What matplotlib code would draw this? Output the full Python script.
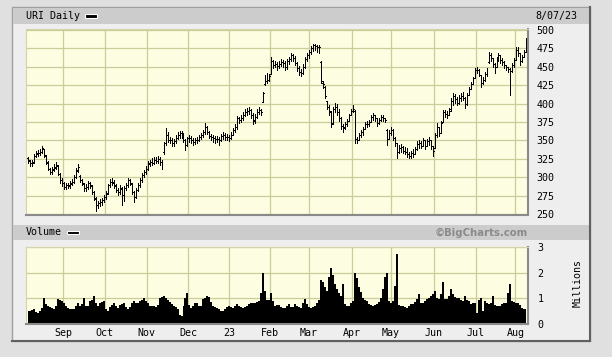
"""
URI daily price bars (OHLC) with volume, BigCharts style.
Period: Aug 2022 - 8/07/23
"""

import matplotlib
matplotlib.use("Agg")

import matplotlib.pyplot as plt
from matplotlib.patches import Rectangle
import numpy as np

# ── figure geometry (pixels of the 612x357 image) ──────────────────────────
W, H = 612, 357

# ── data ───────────────────────────────────────────────────────────────────
opens = [
    326, 322, 319, 321, 329, 332, 333, 335, 338, 329,
    320, 311, 307, 311, 313, 316, 304, 296, 292, 287,
    290, 288, 291, 294, 301, 309, 302, 297, 291, 285,
    287, 292, 288, 280, 271, 262, 265, 267, 269, 273,
    279, 289, 294, 293, 288, 283, 280, 284, 276, 285,
    289, 296, 291, 280, 273, 283, 289, 296, 303, 307,
    312, 318, 321, 320, 323, 322, 325, 321, 334, 346,
    358, 350, 351, 346, 349, 354, 357, 360, 358, 351,
    344, 352, 353, 350, 348, 350, 351, 355, 357, 361,
    367, 361, 356, 355, 353, 352, 352, 350, 356, 357,
    355, 355, 353, 358, 364, 368, 380, 378, 380, 384,
    389, 390, 391, 385, 377, 382, 388, 391, 402, 426,
    430, 432, 440, 457, 452, 454, 451, 453, 456, 455,
    450, 457, 460, 466, 462, 455, 448, 443, 442, 450,
    460, 466, 470, 475, 479, 478, 476, 456, 428, 423,
    404, 395, 389, 373, 392, 396, 388, 380, 370, 367,
    372, 377, 384, 390, 390, 352, 350, 357, 361, 365,
    372, 372, 375, 382, 384, 380, 374, 378, 382, 380,
    364, 352, 360, 364, 354, 346, 334, 340, 341, 336,
    334, 331, 329, 333, 331, 338, 345, 346, 343, 350,
    342, 349, 351, 342, 340, 358, 368, 360, 375, 388,
    386, 385, 392, 404, 410, 406, 401, 408, 410, 408,
    399, 411, 420, 426, 434, 445, 446, 439, 428, 432,
    440, 456, 466, 462, 454, 450, 460, 466, 459, 456,
    452, 449, 447, 444, 452, 459, 472, 468, 458, 463, 471,
]
highs = [
    328, 324, 323, 331, 336, 337, 338, 343, 339, 330,
    322, 313, 314, 318, 321, 317, 306, 299, 294, 293,
    293, 295, 298, 303, 313, 318, 303, 298, 293, 291,
    295, 294, 290, 282, 273, 268, 271, 272, 276, 281,
    291, 298, 299, 296, 291, 286, 289, 287, 288, 292,
    299, 298, 293, 282, 286, 292, 299, 306, 310, 315,
    322, 324, 326, 327, 328, 329, 327, 324, 348, 367,
    361, 355, 353, 352, 357, 361, 363, 363, 360, 352,
    355, 357, 356, 353, 353, 355, 358, 360, 364, 374,
    369, 363, 359, 358, 356, 356, 355, 359, 361, 360,
    359, 357, 362, 367, 372, 383, 382, 384, 388, 392,
    394, 395, 393, 387, 386, 392, 395, 393, 416, 439,
    441, 440, 463, 459, 458, 456, 457, 460, 459, 457,
    460, 463, 469, 467, 464, 456, 451, 447, 453, 463,
    469, 473, 478, 481, 481, 480, 479, 457, 430, 424,
    404, 398, 390, 395, 401, 400, 392, 382, 372, 375,
    379, 386, 392, 398, 391, 355, 360, 364, 368, 375,
    376, 378, 384, 387, 385, 381, 380, 385, 385, 381,
    366, 364, 368, 365, 355, 347, 344, 345, 342, 341,
    340, 334, 336, 338, 341, 349, 351, 349, 353, 350,
    352, 355, 351, 343, 360, 374, 368, 376, 391, 391,
    390, 394, 408, 414, 413, 409, 411, 414, 416, 409,
    414, 423, 429, 436, 448, 450, 447, 439, 436, 443,
    448, 470, 468, 462, 455, 463, 469, 466, 462, 457,
    452, 450, 448, 455, 462, 476, 477, 468, 466, 473, 489,
]
lows = [
    320, 316, 316, 319, 327, 329, 330, 333, 328, 318,
    310, 304, 305, 309, 312, 303, 293, 288, 284, 284,
    285, 286, 289, 292, 299, 307, 294, 289, 281, 282,
    284, 285, 277, 269, 255, 258, 261, 263, 266, 271,
    277, 287, 290, 286, 280, 276, 278, 262, 268, 283,
    287, 289, 277, 266, 272, 281, 287, 294, 300, 305,
    310, 315, 317, 318, 319, 320, 317, 312, 332, 344,
    348, 346, 342, 343, 347, 352, 354, 354, 348, 337,
    342, 348, 347, 344, 345, 346, 349, 352, 355, 359,
    359, 353, 351, 348, 347, 348, 344, 349, 352, 351,
    350, 349, 352, 357, 362, 366, 373, 375, 378, 383,
    385, 386, 381, 372, 374, 380, 386, 384, 402, 425,
    428, 431, 440, 448, 449, 446, 448, 451, 450, 446,
    447, 453, 457, 458, 452, 444, 439, 437, 440, 448,
    457, 462, 467, 471, 472, 470, 469, 428, 421, 407,
    392, 385, 368, 372, 388, 385, 376, 366, 362, 365,
    370, 377, 384, 388, 347, 346, 350, 355, 358, 365,
    368, 370, 375, 378, 376, 370, 372, 376, 377, 375,
    344, 352, 358, 350, 342, 326, 333, 334, 333, 331,
    328, 326, 326, 328, 331, 337, 340, 340, 344, 339,
    342, 344, 338, 329, 340, 355, 356, 360, 375, 382,
    381, 385, 390, 398, 401, 398, 400, 403, 405, 394,
    398, 412, 420, 426, 434, 441, 437, 423, 427, 431,
    438, 455, 457, 450, 442, 450, 457, 455, 452, 448,
    446, 443, 412, 443, 450, 459, 465, 452, 456, 463, 470,
]
closes = [
    323, 319, 319, 329, 333, 333, 334, 340, 330, 321,
    312, 307, 310, 314, 317, 305, 296, 292, 287, 289,
    289, 292, 294, 300, 310, 314, 296, 292, 285, 287,
    292, 289, 280, 272, 262, 265, 266, 269, 273, 278,
    289, 294, 294, 289, 283, 280, 285, 276, 285, 289,
    296, 292, 280, 273, 283, 289, 296, 303, 307, 312,
    319, 321, 321, 323, 323, 325, 321, 317, 346, 358,
    351, 351, 346, 349, 354, 357, 360, 359, 351, 344,
    353, 353, 351, 348, 350, 351, 355, 357, 361, 368,
    362, 356, 355, 353, 352, 352, 351, 356, 357, 355,
    355, 353, 358, 364, 368, 380, 378, 380, 384, 389,
    390, 391, 385, 378, 382, 388, 391, 389, 414, 430,
    432, 437, 457, 452, 454, 451, 453, 456, 455, 450,
    457, 460, 466, 462, 455, 448, 443, 442, 450, 460,
    466, 470, 475, 479, 478, 476, 476, 430, 426, 410,
    395, 390, 372, 392, 396, 388, 380, 370, 368, 372,
    377, 384, 390, 392, 352, 350, 357, 361, 365, 372,
    372, 375, 382, 384, 380, 374, 378, 382, 380, 378,
    352, 360, 364, 354, 346, 334, 340, 341, 336, 334,
    331, 329, 333, 331, 338, 345, 346, 343, 350, 342,
    349, 351, 342, 336, 358, 368, 360, 374, 388, 386,
    385, 390, 404, 410, 406, 401, 408, 410, 408, 399,
    411, 420, 426, 433, 445, 446, 440, 428, 432, 440,
    446, 466, 462, 454, 450, 460, 466, 459, 456, 452,
    449, 447, 444, 452, 459, 472, 468, 458, 463, 470, 487,
]
# volume in millions of shares
volume = [
    0.50, 0.52, 0.55, 0.57, 0.48, 0.43, 0.50, 0.62, 1.03, 0.78,
    0.70, 0.65, 0.62, 0.57, 0.70, 0.96, 0.95, 0.90, 0.83, 0.70,
    0.62, 0.57, 0.58, 0.57, 0.72, 0.83, 0.72, 0.78, 1.03, 0.72,
    0.70, 0.88, 0.95, 1.09, 0.80, 0.70, 0.80, 0.85, 0.90, 0.60,
    0.50, 0.65, 0.75, 0.83, 0.70, 0.63, 0.75, 0.78, 0.83, 0.65,
    0.57, 0.65, 0.80, 0.90, 0.80, 0.83, 0.88, 0.95, 1.03, 0.88,
    0.80, 0.72, 0.70, 0.70, 0.68, 0.75, 1.00, 1.06, 1.09, 1.02,
    0.94, 0.85, 0.78, 0.70, 0.65, 0.60, 0.35, 0.32, 0.70, 1.00,
    1.22, 0.75, 0.63, 0.70, 0.80, 0.83, 0.72, 0.70, 0.96, 1.02,
    1.09, 1.05, 0.85, 0.70, 0.65, 0.62, 0.57, 0.52, 0.50, 0.58,
    0.65, 0.70, 0.67, 0.63, 0.70, 0.76, 0.72, 0.66, 0.63, 0.68,
    0.72, 0.76, 0.80, 0.83, 0.83, 0.85, 0.90, 1.20, 1.97, 1.29,
    0.95, 0.95, 1.22, 0.90, 0.70, 0.75, 0.74, 0.65, 0.63, 0.63,
    0.72, 0.76, 0.65, 0.68, 0.76, 0.72, 0.68, 0.63, 0.80, 0.96,
    0.78, 0.68, 0.63, 0.66, 0.70, 0.82, 0.92, 1.70, 1.65, 1.45,
    1.30, 1.82, 2.18, 1.90, 1.55, 1.35, 1.20, 1.10, 1.55, 0.76,
    0.72, 0.70, 0.80, 0.90, 2.00, 1.80, 1.45, 1.25, 1.03, 0.95,
    0.88, 0.78, 0.74, 0.70, 0.74, 0.76, 0.85, 1.00, 1.35, 1.82,
    2.00, 0.90, 0.83, 0.90, 1.50, 2.74, 0.75, 0.70, 0.70, 0.66,
    0.63, 0.72, 0.76, 0.76, 0.85, 0.96, 1.18, 0.80, 0.82, 0.90,
    0.98, 1.03, 1.09, 1.15, 1.29, 1.00, 0.96, 1.16, 1.62, 0.96,
    0.96, 1.10, 1.36, 1.16, 1.05, 1.03, 1.03, 0.95, 0.90, 1.09,
    0.92, 0.88, 0.78, 0.80, 0.83, 0.43, 0.95, 1.03, 0.50, 0.90,
    0.80, 0.76, 0.83, 1.09, 0.75, 0.70, 0.70, 0.72, 0.76, 0.80,
    0.83, 1.22, 1.55, 0.90, 0.85, 0.83, 0.80, 0.74, 0.63, 0.60, 0.57,
]

# month boundaries (trading-day position) and labels
month_pos = [17.5, 38.5, 59.5, 80.5, 101, 121.5, 141, 162.5, 182, 203.5, 224.5, 244.5]
month_labels = ["Sep", "Oct", "Nov", "Dec", "23", "Feb", "Mar", "Apr", "May", "Jun", "Jul", "Aug"]
price_ticks = [250, 275, 300, 325, 350, 375, 400, 425, 450, 475, 500]
vol_ticks = [0, 1, 2, 3]

# ── style ──────────────────────────────────────────────────────────────────
MONO = "DejaVu Sans Mono"
BG_OUT = "#e0e0e0"
BG_PANEL = "#eeeeee"
BG_HEAD = "#cccccc"
BG_PLOT = "#fdfde2"
GRID = "#cccc99"
BAR_LW = 0.72   # one pixel
X_RIGHT = 250.8


def fx(px):
    return px / W


def fy(py):
    return 1 - py / H


def px_rect(x0, y0, x1, y1, **kw):
    return Rectangle((fx(x0), fy(y1)), fx(x1) - fx(x0), fy(y0) - fy(y1),
                     transform=fig.transFigure, zorder=-5, **kw)


fig = plt.figure(figsize=(W / 100, H / 100), dpi=100)
fig.patch.set_facecolor(BG_OUT)

# outer panel with shadow border
fig.add_artist(px_rect(12, 7, 590, 341, facecolor=BG_PANEL, edgecolor="#a0a0a0", linewidth=1.0))
fig.add_artist(plt.Line2D([fx(590), fx(590)], [fy(7), fy(341)], transform=fig.transFigure,
                          color="#606060", lw=1.5, zorder=-4))
fig.add_artist(plt.Line2D([fx(12), fx(590)], [fy(341), fy(341)], transform=fig.transFigure,
                          color="#606060", lw=1.5, zorder=-4))

# header bars
fig.add_artist(px_rect(13, 8, 590, 24, facecolor=BG_HEAD, edgecolor="none"))
fig.add_artist(px_rect(13, 225, 590, 240, facecolor=BG_HEAD, edgecolor="none"))

fig.text(fx(26), fy(16), "URI Daily", family=MONO, fontsize=7.2, va="center", ha="left")
fig.add_artist(px_rect(85, 14.5, 97, 17.5, facecolor="black", edgecolor="white", linewidth=0.8))
fig.text(fx(577), fy(16), "8/07/23", family=MONO, fontsize=7.2, va="center", ha="right")

fig.text(fx(26), fy(232), "Volume", family=MONO, fontsize=7.2, va="center", ha="left")
fig.add_artist(px_rect(67, 230.5, 79, 233.5, facecolor="black", edgecolor="white", linewidth=0.8))
fig.text(fx(528), fy(232.5), "\u00a9BigCharts.com", family="DejaVu Sans", fontsize=7.3,
         fontweight="bold", color="#8a8a8a", va="center", ha="right")

fig.text(fx(578), fy(283), "Millions", family=MONO, fontsize=7.2, rotation=90,
         va="center", ha="center")

# ── price axes ─────────────────────────────────────────────────────────────
x = np.arange(len(closes))

ax = fig.add_axes([fx(26), fy(215), fx(528) - fx(26), fy(29) - fy(215)])
ax.set_facecolor(BG_PLOT)
ax.vlines(x, lows, highs, color="black", lw=BAR_LW, antialiased=False)
ax.hlines(opens, x - 0.45, x, color="black", lw=BAR_LW, antialiased=False)
ax.hlines(closes, x, x + 0.45, color="black", lw=BAR_LW, antialiased=False)

ax.set_xlim(-1, X_RIGHT)
ax.set_ylim(249, 501)
ax.set_xticks(month_pos)
ax.set_xticklabels([])
ax.set_yticks(price_ticks)
ax.yaxis.tick_right()
ax.tick_params(axis="both", length=0)
ax.tick_params(axis="y", pad=6, labelsize=7.2)
for lab in ax.get_yticklabels():
    lab.set_family(MONO)
ax.grid(True, color=GRID, lw=0.9)
ax.set_axisbelow(True)

# ── volume axes ────────────────────────────────────────────────────────────
axv = fig.add_axes([fx(26), fy(324), fx(528) - fx(26), fy(247) - fy(324)])
axv.set_facecolor(BG_PLOT)
axv.fill_between(x, volume, step="mid", color="black", lw=0)

axv.set_xlim(-1, X_RIGHT)
axv.set_ylim(0, 3)
axv.set_xticks(month_pos)
axv.set_xticklabels(month_labels, family=MONO, fontsize=7.2)
axv.set_yticks(vol_ticks)
axv.set_yticklabels([str(v) for v in vol_ticks], family=MONO, fontsize=7.2)
axv.yaxis.tick_right()
axv.tick_params(axis="both", length=0)
axv.tick_params(axis="y", pad=7)
axv.tick_params(axis="x", pad=3)
axv.grid(True, color=GRID, lw=0.9)
axv.set_axisbelow(True)

for a in (ax, axv):
    for side in ("top", "left"):
        a.spines[side].set_color("#d4d4a8")
        a.spines[side].set_linewidth(0.8)
    for side in ("bottom", "right"):
        a.spines[side].set_color("#8a8a8a")
        a.spines[side].set_linewidth(1.5)

fig.savefig("out.png", dpi=100, facecolor=fig.get_facecolor())
